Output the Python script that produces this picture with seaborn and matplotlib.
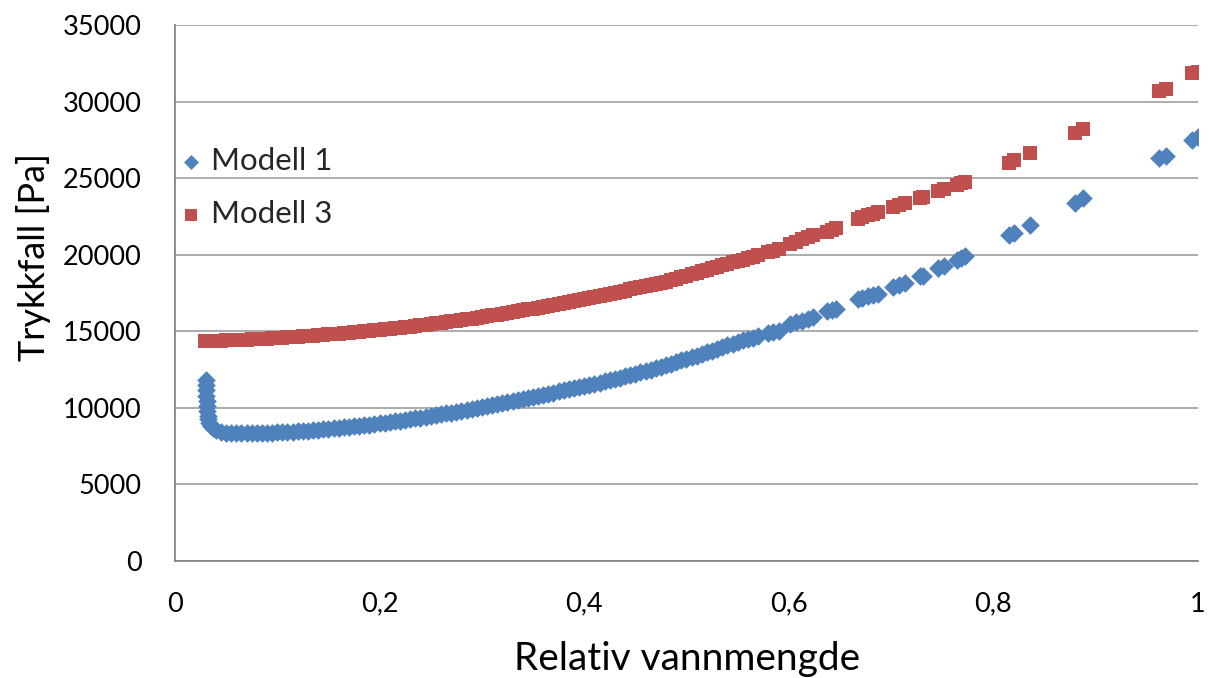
import matplotlib
matplotlib.use("Agg")
import matplotlib.pyplot as plt
import seaborn as sns
import pandas as pd

# Modell 1: relative water amount and pressure drop [Pa]
modell1_x = [
    0.0300, 0.0302, 0.0304, 0.0306, 0.0309, 0.0312, 0.0316, 0.0321, 0.0328, 0.0337,
    0.0350, 0.0370, 0.0400, 0.0450, 0.0500, 0.0550, 0.0600, 0.0650, 0.0700, 0.0750,
    0.0800, 0.0850, 0.0900, 0.0950,
    0.100, 0.105, 0.110, 0.115, 0.120, 0.125, 0.130, 0.135, 0.140, 0.145,
    0.150, 0.155, 0.160, 0.165, 0.170, 0.175, 0.180, 0.185, 0.190, 0.195,
    0.200, 0.205, 0.210, 0.215, 0.220, 0.225, 0.230, 0.235, 0.240, 0.245,
    0.250, 0.255, 0.260, 0.265, 0.270, 0.275, 0.280, 0.285, 0.290, 0.295,
    0.300, 0.305, 0.310, 0.315, 0.320, 0.325, 0.330, 0.335, 0.340, 0.345,
    0.350, 0.355, 0.360, 0.365, 0.370, 0.375, 0.380, 0.385, 0.390, 0.395,
    0.400, 0.405, 0.410, 0.415, 0.420, 0.425, 0.430, 0.435, 0.440, 0.445,
    0.450, 0.455, 0.460, 0.465, 0.470, 0.475, 0.480, 0.485, 0.490, 0.495,
    0.500, 0.505, 0.510, 0.515, 0.520, 0.525, 0.530, 0.535, 0.540, 0.545,
    0.550, 0.555, 0.560, 0.565, 0.570,
    0.580, 0.585, 0.590, 0.601, 0.607, 0.613, 0.619, 0.624,
    0.637, 0.642, 0.646, 0.668, 0.672, 0.677, 0.682, 0.687,
    0.702, 0.708, 0.714, 0.728, 0.731, 0.746, 0.752,
    0.764, 0.768, 0.772, 0.815, 0.820, 0.836, 0.880, 0.888,
    0.962, 0.969, 0.994, 1.000,
]
modell1_y = [
    11850, 11500, 11150, 10800, 10450, 10100, 9800, 9500, 9250, 9020,
    8820, 8660, 8540, 8440, 8390, 8365, 8350, 8345, 8345, 8348,
    8355, 8365, 8375, 8388,
    8400, 8415, 8430, 8450, 8470, 8490, 8510, 8540, 8570, 8600,
    8630, 8660, 8690, 8725, 8760, 8795, 8830, 8865, 8900, 8940,
    8980, 9025, 9070, 9115, 9160, 9210, 9260, 9310, 9360, 9415,
    9470, 9525, 9580, 9635, 9690, 9750, 9810, 9870, 9930, 9995,
    10060, 10125, 10190, 10255, 10320, 10385, 10450, 10520, 10590, 10655,
    10720, 10790, 10860, 10930, 11000, 11070, 11140, 11210, 11280, 11350,
    11420, 11500, 11580, 11655, 11730, 11810, 11890, 11970, 12050, 12135,
    12220, 12310, 12400, 12500, 12600, 12695, 12790, 12890, 12990, 13095,
    13200, 13300, 13400, 13510, 13620, 13735, 13850, 13965, 14080, 14190,
    14300, 14400, 14500, 14590, 14680,
    14880, 14950, 15050, 15480, 15590, 15700, 15810, 15900,
    16300, 16400, 16480, 17110, 17190, 17280, 17370, 17460,
    17900, 18020, 18140, 18580, 18640, 19130, 19250,
    19660, 19790, 19900, 21290, 21450, 21940, 23380, 23700,
    26320, 26450, 27490, 27690,
]

# Modell 3: relative water amount and pressure drop [Pa]
modell3_x = [
    0.029, 0.035, 0.040, 0.045, 0.050, 0.055, 0.060, 0.065, 0.070, 0.075,
    0.080, 0.085, 0.090, 0.095, 0.100, 0.105, 0.110, 0.115, 0.120, 0.125,
    0.130, 0.135, 0.140, 0.145, 0.150, 0.155, 0.160, 0.165, 0.170, 0.175,
    0.180, 0.185, 0.190, 0.195, 0.200, 0.205, 0.210, 0.215, 0.220, 0.225,
    0.230, 0.235, 0.240, 0.245, 0.250, 0.255, 0.260, 0.265, 0.270, 0.275,
    0.280, 0.285, 0.290, 0.295, 0.300, 0.305, 0.310, 0.315, 0.320, 0.325,
    0.330, 0.335, 0.340, 0.345, 0.350, 0.355, 0.360, 0.365, 0.370, 0.375,
    0.380, 0.385, 0.390, 0.395, 0.400, 0.405, 0.410, 0.415, 0.420, 0.425,
    0.430, 0.435, 0.440, 0.445, 0.450, 0.455, 0.460, 0.465, 0.470, 0.475,
    0.480, 0.485, 0.490, 0.495, 0.500, 0.505, 0.510, 0.515, 0.520, 0.525,
    0.530, 0.535, 0.540, 0.545, 0.550, 0.555, 0.560, 0.565, 0.570,
    0.580, 0.585, 0.590, 0.601, 0.607, 0.613, 0.619, 0.624,
    0.637, 0.642, 0.646, 0.668, 0.672, 0.677, 0.682, 0.687,
    0.702, 0.708, 0.714, 0.728, 0.731, 0.746, 0.752,
    0.764, 0.768, 0.772, 0.815, 0.820, 0.836, 0.880, 0.888,
    0.962, 0.969, 0.994, 1.000,
]
modell3_y = [
    14350, 14360, 14370, 14385, 14400, 14415, 14430, 14445, 14460, 14475,
    14490, 14505, 14520, 14540, 14560, 14580, 14600, 14620, 14640, 14665,
    14690, 14715, 14740, 14765, 14790, 14820, 14850, 14875, 14900, 14930,
    14960, 14990, 15020, 15055, 15090, 15125, 15160, 15195, 15230, 15270,
    15310, 15350, 15390, 15430, 15470, 15515, 15560, 15605, 15650, 15695,
    15740, 15785, 15830, 15880, 15930, 15985, 16040, 16095, 16150, 16205,
    16260, 16315, 16370, 16425, 16480, 16540, 16600, 16660, 16720, 16785,
    16850, 16915, 16980, 17045, 17110, 17180, 17250, 17315, 17380, 17450,
    17520, 17590, 17660, 17730, 17800, 17875, 17950, 18025, 18100, 18175,
    18250, 18340, 18430, 18525, 18620, 18715, 18810, 18905, 19000, 19100,
    19200, 19300, 19400, 19495, 19590, 19685, 19780, 19870, 19960,
    20150, 20270, 20400, 20700, 20850, 21000, 21150, 21280,
    21500, 21620, 21720, 22350, 22450, 22570, 22690, 22800,
    23120, 23250, 23390, 23700, 23770, 24130, 24270,
    24560, 24660, 24760, 25990, 26180, 26640, 27950, 28210,
    30690, 30820, 31870, 31930,
]

series_names = ["Modell 1", "Modell 3"]
x_ticks = [0, 0.2, 0.4, 0.6, 0.8, 1]
x_tick_labels = ["0", "0,2", "0,4", "0,6", "0,8", "1"]
y_ticks = [0, 5000, 10000, 15000, 20000, 25000, 30000, 35000]

df = pd.concat([
    pd.DataFrame({"x": modell1_x, "y": modell1_y, "Modell": series_names[0]}),
    pd.DataFrame({"x": modell3_x, "y": modell3_y, "Modell": series_names[1]}),
], ignore_index=True)

sns.set_theme(style="white")
plt.rcParams["font.family"] = ["Lato", "DejaVu Sans"]

fig = plt.figure(figsize=(12.09, 6.78), dpi=100)
ax = fig.add_axes([0.1447, 0.1726, 0.8462, 0.7905])

blue = "#4F81BD"
red = "#C0504D"

sns.scatterplot(data=df[df["Modell"] == series_names[0]], x="x", y="y",
                marker="D", color=blue, s=90, linewidth=0, ax=ax,
                label=series_names[0], zorder=3)
sns.scatterplot(data=df[df["Modell"] == series_names[1]], x="x", y="y",
                marker="s", color=red, s=100, linewidth=0, ax=ax,
                label=series_names[1], zorder=3)

ax.set_xlim(0, 1)
ax.set_ylim(0, 35000)
ax.set_xticks(x_ticks)
ax.set_xticklabels(x_tick_labels)
ax.set_yticks(y_ticks)
ax.set_yticklabels([str(v) for v in y_ticks])

grid_col = "#A6A6A6"
ax.yaxis.grid(True, color=grid_col, linewidth=1.3)
ax.xaxis.grid(False)
ax.set_axisbelow(True)
for side in ["top", "right"]:
    ax.spines[side].set_visible(False)
for side in ["left", "bottom"]:
    ax.spines[side].set_color("#868686")
    ax.spines[side].set_linewidth(1.3)

ax.tick_params(axis="both", which="major", direction="out", length=7,
               width=1.2, color="#868686", labelsize=19.5, labelcolor="black")
ax.tick_params(axis="x", pad=15)
ax.tick_params(axis="y", pad=17)

ax.set_xlabel("Relativ vannmengde", fontsize=28, color="black")
ax.set_ylabel("Trykkfall [Pa]", fontsize=26, color="black")
ax.xaxis.set_label_coords(0.5005, -0.150)
ax.yaxis.set_label_coords(-0.121, 0.567)

leg = ax.legend(loc="upper left", bbox_to_anchor=(0.0, 0.772), frameon=False,
                fontsize=22.5, labelspacing=0.8, handletextpad=0.15,
                handlelength=1.0, borderaxespad=0, borderpad=0,
                markerscale=0.8)

fig.savefig("out.png", dpi=100)
